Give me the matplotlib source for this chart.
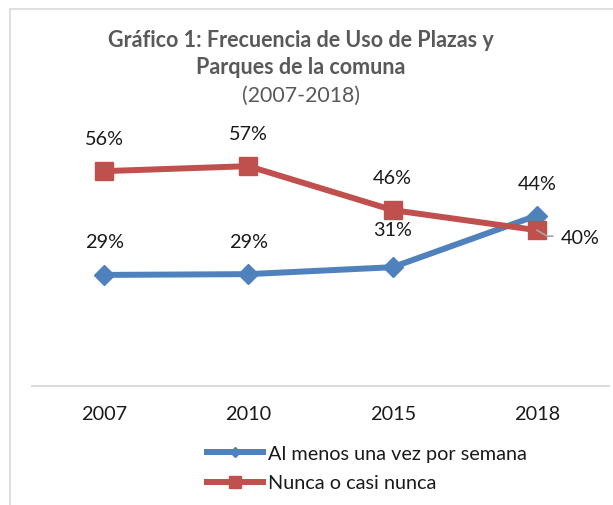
import matplotlib
matplotlib.use('Agg')
import matplotlib.pyplot as plt
from matplotlib.lines import Line2D
from matplotlib.patches import Rectangle

plt.rcParams['font.family'] = ['Lato', 'DejaVu Sans']

years = ["2007", "2010", "2015", "2018"]
semana = [28.8, 29.0, 30.8, 44.2]
nunca = [55.7, 57.0, 45.6, 40.4]
semana_labels = ["29%", "29%", "31%", "44%"]
nunca_labels = ["56%", "57%", "46%", "40%"]

blue = '#4F81BD'
red = '#C0504D'
txt = '#1a1a1a'
fs = 14.3

fig = plt.figure(figsize=(6.13, 5.06), dpi=100)
W, H = 613, 506

# outer chart border (light gray, cut on the right / bottom)
fig.patches.append(Rectangle((10 / W, -0.05), 1.1, 1 - 10 / H + 0.05,
                             transform=fig.transFigure, fill=False,
                             edgecolor='#d9d9d9', lw=1.2))

ax = fig.add_axes([32 / W, 1 - 387 / H, 577 / W, 270 / H])
x = list(range(len(years)))

ax.plot(x, semana, color=blue, lw=4.3, marker='D', ms=10,
        mfc=blue, mec=blue, zorder=3, solid_capstyle='round')
ax.plot(x, nunca, color=red, lw=4.3, marker='s', ms=13.5,
        mfc=red, mec=red, zorder=4, solid_capstyle='round')

ax.set_xlim(-0.5, 3.5)
ax.set_ylim(0, 70)
ax.set_xticks(x)
ax.set_xticklabels(years, fontsize=fs, color=txt)
ax.tick_params(axis='x', length=0, pad=14)
ax.set_yticks([])
for s in ['left', 'right', 'top']:
    ax.spines[s].set_visible(False)
ax.spines['bottom'].set_color('#d9d9d9')
ax.spines['bottom'].set_linewidth(1.4)

# data labels, offsets in pixels
px = 72 / 100
semana_off = [(0, 33), (0, 33), (0, 38), (0, 32)]
nunca_off = [(0, 33), (0, 33), (0, 33), (43, -7)]
for i in x:
    dx, dy = semana_off[i]
    ax.annotate(semana_labels[i], (i, semana[i]), xytext=(dx * px, dy * px),
                textcoords='offset points', ha='center', va='center',
                fontsize=fs, color=txt, zorder=6)
    dx, dy = nunca_off[i]
    ax.annotate(nunca_labels[i], (i, nunca[i]), xytext=(dx * px, dy * px),
                textcoords='offset points', ha='center', va='center',
                fontsize=fs, color=txt, zorder=6)

# leader line for the 40% label
ax.annotate('', (3, nunca[3]), xytext=(16 * px, -6 * px),
            textcoords='offset points',
            arrowprops=dict(arrowstyle='-', color='#a6a6a6', lw=1.2,
                            connectionstyle='angle,angleA=0,angleB=-30,rad=0',
                            shrinkA=0, shrinkB=0),
            zorder=7)

# title
fig.text(301 / W, 1 - 54 / H, "Gráfico 1: Frecuencia de Uso de Plazas y\nParques de la comuna",
         ha='center', va='center', fontsize=15.5, fontweight='bold',
         color='#595959', linespacing=1.38)
fig.text(301 / W, 1 - 96 / H, "(2007-2018)", ha='center', va='center',
         fontsize=15.3, color='#595959')

# legend
handles = [
    Line2D([], [], color=blue, lw=4.3, marker='D', ms=5.5, mfc=blue, mec=blue),
    Line2D([], [], color=red, lw=4.3, marker='s', ms=8, mfc=red, mec=red),
]
fig.legend(handles, ["Al menos una vez por semana", "Nunca o casi nunca"],
           loc='center left', bbox_to_anchor=(207 / W, 1 - 469 / H),
           frameon=False, fontsize=fs, handlelength=2.8, handletextpad=0.25,
           borderpad=0, borderaxespad=0, labelspacing=0.65, labelcolor=txt)

fig.savefig('out.png', dpi=100)
